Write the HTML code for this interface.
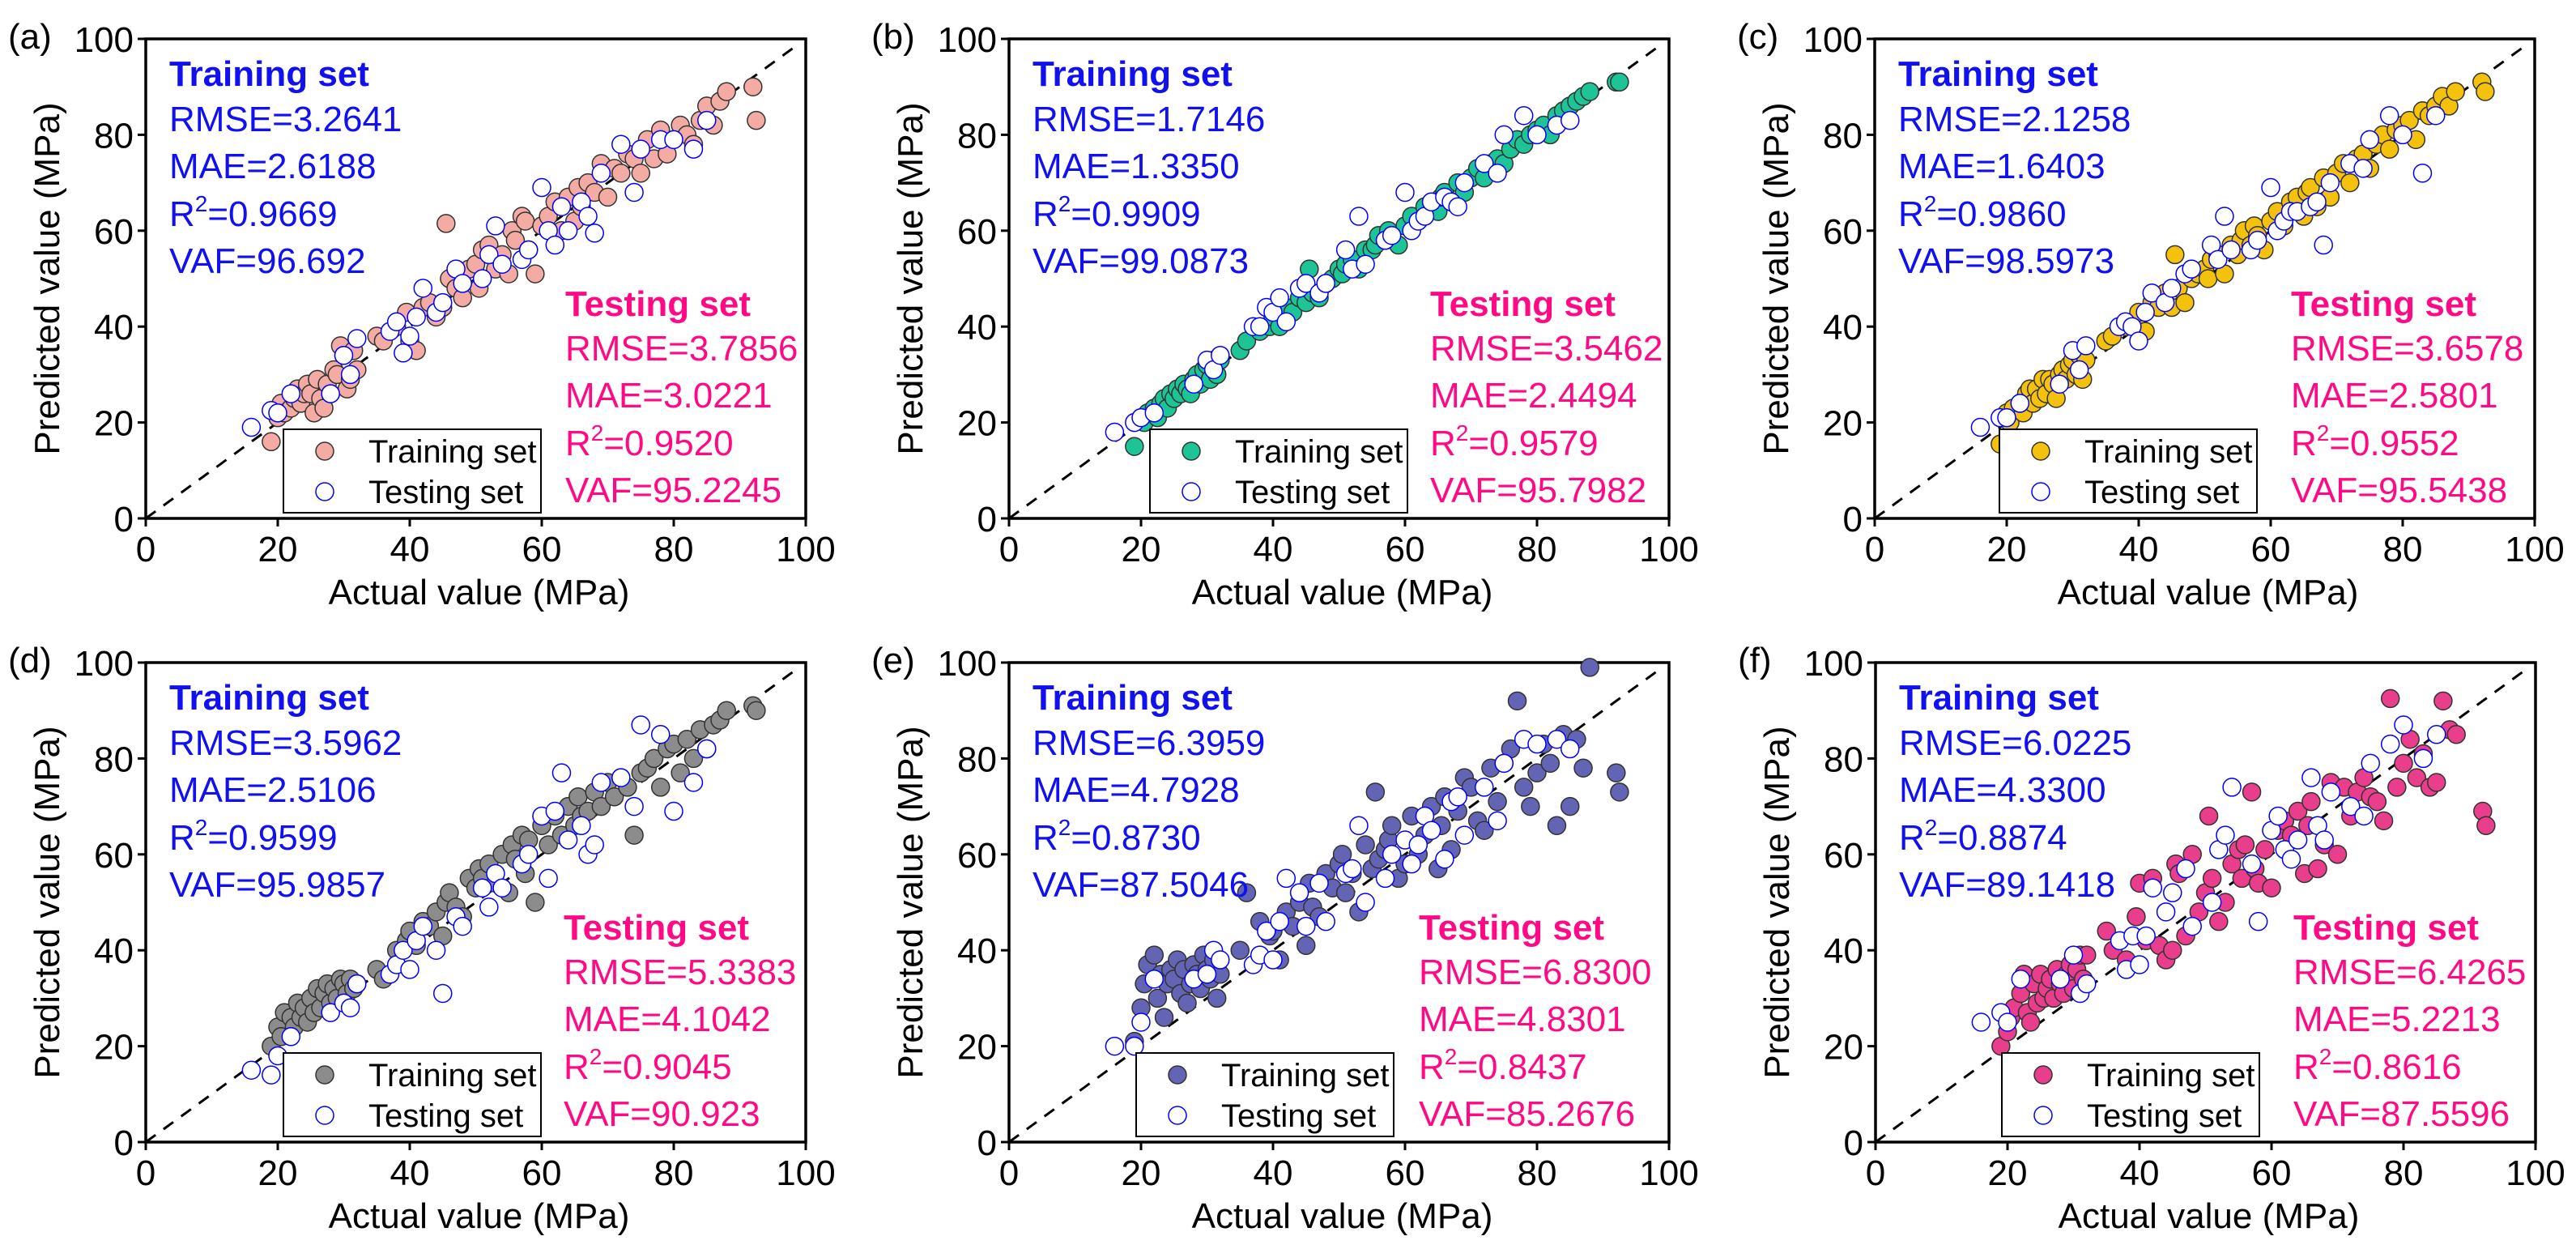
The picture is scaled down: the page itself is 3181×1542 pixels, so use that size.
<!DOCTYPE html>
<html><head><meta charset="utf-8">
<style>
html,body{margin:0;padding:0;background:#fff;}
svg{display:block;font-family:"Liberation Sans",Arial,sans-serif;}
</style></head>
<body>
<svg id="fig" width="3181" height="1542" viewBox="0 0 3181 1542" xmlns="http://www.w3.org/2000/svg"></svg>
<script>
// shared actual values
const trainX = [19,20,20.5,21,22,22.5,23,23.5,24,24.5,25,25.5,26,26.5,27,27.5,28,28.5,29,29.5,30,30.5,31,31.5,32,
35,36,38,39.5,40,41,42,43,44,45,45.5,46,47,48,49,50,
50.5,51,52,53,54,55,55.5,56,57,57.5,58,59,60,
61,62,63,64,65,65.5,66,67,68,69,70,71,72,73,74,75,
76,77,78,79,80,81,82,83,84,85,86,87,88,92,92.5];
const testX = [16,19,20,22,28,30,31,32,37,38,39,40,41,42,44,45,47,48,51,52,53,54,57,58,60,61,62,63,64,66,67,68,69,72,74,75,78,80,83,85];

const trainYa = [16,21,24,22,23,25,27,24,26,28,26,22,29,25,23,28,26,31,30,36,34,27,29,35,31,
38,37,40,43,37,35,44,45,42,44,61.5,50,48,46,52,53,
48,56,57,52,55,51,60,58,63,62,56,51,61,
63,66,60,67,62,69,65,70,68,74,67,73,72,76,75,72,
79,75,81,76,79,82,80,78,83,86,82,87,89,90,83];
const testYa = [19,22.5,22,26,26,34,30,37.5,39,41,34.5,38,42,48,43,45,52,49,50,55,61,53,54,56,69,60,57,65,60,66,63,59.5,72,78,68,77,79,79,77,83];

const trainYb = [15,21,20,22,23,21,24,25,23,26,25,27,26,28,27,26,29,30,28,31,32,29,33,30,33,
35,37,39,40,42,40,44,43,46,45,52,47,46,49,50,52,
51,53,54,52,56,56,57,59,58,60,59,57,61,
63,62,65,66,64,67,68,66,70,68,71,73,71,74,75,74,
77,79,78,80,81,82,80,84,85,86,87,88,89,91,91];
const testYb = [18,20,21,22,28,33,31,34,40,40,44,43,46,41,48,49,47,49,56,52,63,53,58,59,68,60,62,63,66,67,66,65,70,74,72,80,84,80,82,83];

const trainYc = [15.5,22,20,23,24,22,26,27,24,27,25,29,26,29,28,25,30,31,29,32,33,30,34,29,33,
37,38,40,41,43,39,45,44,47,44,55,48,45,50,51,52,
50,54,55,51,57,55,58,60,57,61,59,56,62,
64,61,66,67,63,68,69,65,71,67,72,74,70,75,76,73,
78,80,77,81,82,83,79,85,84,86,88,86,89,91,89];
const testYc = [19,21,21,24,28,35,31,36,40,41,40,37,43,47,45,48,51,52,57,54,63,56,56,58,69,60,62,64,64,65,66,57,70,74,73,79,84,80,72,84];

const trainYd = [20,24,22,27,26,24,29,26,28,25,30,27,32,28,31,33,29,32,30,34,33,31,34,32,33,
36,34,40,42,44,41,46,45,48,43,50,52,49,47,55,53,
57,55,58,54,60,52,62,59,64,56,63,50,66,
62,68,64,70,66,72,68,69,73,70,75,72,76,74,64,77,
78,80,74,82,83,77,84,80,86,82,87,88,90,91,90];
const testYd = [15,14,18,22,27,29,28,33,35,37,40,36,42,45,40,31,47,45,53,49,56,53,58,60,68,55,69,77,63,66,60,62,75,76,70,87,85,69,75,82];

const trainYe = [21,28,33,37,39,30,35,26,33,36,34,38,31,36,29,33,37,35,32,39,36,34,38,30,35,
40,52,46,43,44,38,48,45,50,41,54,49,47,56,53,58,
60,52,56,48,62,57,73,59,61,63,66,55,58,
68,60,64,70,57,66,72,61,69,76,74,67,65,78,71,79,
82,92,74,70,77,83,79,66,85,70,84,78,99,77,73];
const testYe = [20,20,25,34,34,35,40,38,37,39,44,38,46,55,52,45,54,46,56,57,66,50,55,60,63,58,62,68,65,59,71,72,64,74,67,79,84,83,84,82];

const trainYf = [20,23,26,28,31,35,27,25,33,29,35,30,32,34,30,36,33,31,35,37,32,36,39,34,39,
44,40,38,47,54,42,55,41,38,40,58,56,43,60,48,52,
68,55,46,50,58,61,55,62,73,57,54,61,53,
65,67,64,69,56,66,71,57,62,75,60,74,68,73,76,72,
71,67,92.5,74,79,84,76,81,74,75,92,86,85,69,66];
const testYf = [25,27,25,34,34,39,31,33,42,36,43,37,43,53,48,52,57,45,50,61,64,74,58,46,65,68,61,59,63,76,66,63,73,70,68,79,83,87,80,85];

const ticks = [0,20,40,60,80,100];
const tickLabels = ["0","20","40","60","80","100"];
const panelLabels = ["(a)","(b)","(c)","(d)","(e)","(f)"];
const trainStats = [["3.2641","2.6188","0.9669","96.692"],["1.7146","1.3350","0.9909","99.0873"],["2.1258","1.6403","0.9860","98.5973"],["3.5962","2.5106","0.9599","95.9857"],["6.3959","4.7928","0.8730","87.5046"],["6.0225","4.3300","0.8874","89.1418"]];
const testStats = [["3.7856","3.0221","0.9520","95.2245"],["3.5462","2.4494","0.9579","95.7982"],["3.6578","2.5801","0.9552","95.5438"],["5.3383","4.1042","0.9045","90.923"],["6.8300","4.8301","0.8437","85.2676"],["6.4265","5.2213","0.8616","87.5596"]];
const trainYs = [trainYa,trainYb,trainYc,trainYd,trainYe,trainYf];
const testYs = [testYa,testYb,testYc,testYd,testYe,testYf];

const fills = ["#F4ABA3","#1DC596","#F4C20D","#8C8C8C","#6464B4","#E83E8C"];
const origins = [[180,48],[1246,48],[2315,48],[180,818],[1246,818],[2316,818]];
const legendOff = [170,174,154,170,157,156];
const testOff = [518,520,514,516,506,516];
const W = 815, H = 592;
const NS = "http://www.w3.org/2000/svg";
const svg = document.getElementById("fig");

function mk(tag, attrs, parent){
  const e = document.createElementNS(NS, tag);
  for (const k in attrs) e.setAttribute(k, attrs[k]);
  parent.appendChild(e);
  return e;
}
const xs = v => v / 100 * W;
const ys = v => H - v / 100 * H;

for (let p = 0; p < 6; p++) {
  const g = mk("g", {transform:"translate(" + origins[p][0] + "," + origins[p][1] + ")"}, svg);
  
  

  // frame
  const fr = mk("rect", {x:0,y:0,width:W,height:H,fill:"none",stroke:"#000","stroke-width":3.5}, g);
  
  

  // ticks + labels
  for (let i = 0; i < ticks.length; i++) {
    const tx = xs(ticks[i]), ty = ys(ticks[i]);
    mk("line", {x1:tx,y1:H,x2:tx,y2:H+10,stroke:"#000","stroke-width":3}, g);
    mk("line", {x1:0,y1:ty,x2:-10,y2:ty,stroke:"#000","stroke-width":3}, g);
    const xl = mk("text", {x:tx,y:H+53,"font-size":44,"text-anchor":"middle",fill:"#000"}, g);
    xl.textContent = tickLabels[i];
    
    
    const yl = mk("text", {x:-15,y:ty+16,"font-size":44,"text-anchor":"end",fill:"#000"}, g);
    yl.textContent = tickLabels[i];
    
    
  }
  const xt = mk("text", {x:W/2+4,y:H+106,"font-size":44,"text-anchor":"middle"}, g);
  xt.textContent = "Actual value (MPa)";
  
  
  const yt = mk("text", {x:0,y:0,"font-size":44,"text-anchor":"middle",transform:"translate(-107," + (H/2) + ") rotate(-90)"}, g);
  yt.textContent = "Predicted value (MPa)";
  
  
  const pl = mk("text", {x:-170,y:12,"font-size":44}, g);
  pl.textContent = panelLabels[p];
  
  

  // diagonal
  const dl = mk("line", {x1:xs(0),y1:ys(0),x2:xs(98.5),y2:ys(98.5),stroke:"#000","stroke-width":3,"stroke-dasharray":"15 12"}, g);
  
  

  // points
  const ty = trainYs[p], te = testYs[p];
  for (let i = 0; i < trainX.length; i++) {
    const c = mk("circle", {cx:xs(trainX[i]),cy:ys(ty[i]),r:11,fill:fills[p],stroke:"#333","stroke-width":1.5}, g);
    
    
  }
  for (let i = 0; i < testX.length; i++) {
    const c = mk("circle", {cx:xs(testX[i]),cy:ys(te[i]),r:11,fill:"#fff",stroke:"#0000ff","stroke-width":1.5}, g);
    
    
  }

  // training annotations
  const blue = "#1010F0", pink = "#FF0A84";
  const t1 = mk("text", {x:29,y:58,"font-size":44,"font-weight":"bold",fill:blue}, g);
  t1.textContent = "Training set";
  
  
  const lines = (x0, y0, stats, col, nm) => {
    const ys0 = [y0, y0+58, y0+117, y0+175];
    const a = mk("text", {x:x0,y:ys0[0],"font-size":44,fill:col}, g);
    a.textContent = "RMSE=" + stats[0];
    
    
    const b = mk("text", {x:x0,y:ys0[1],"font-size":44,fill:col}, g);
    b.textContent = "MAE=" + stats[1];
    
    
    const c = mk("text", {x:x0,y:ys0[2],"font-size":44,fill:col}, g);
    
    
    const s1 = mk("tspan", {}, c); s1.textContent = "R";
    const s2 = mk("tspan", {"font-size":28,dy:-18}, c); s2.textContent = "2";
    const s3 = mk("tspan", {dy:18}, c); s3.textContent = "=" + stats[2];
    const d = mk("text", {x:x0,y:ys0[3],"font-size":44,fill:col}, g);
    d.textContent = "VAF=" + stats[3];
    
    
  };
  lines(29, 114, trainStats[p], blue, 'training');
  const t2 = mk("text", {x:testOff[p],y:342,"font-size":44,"font-weight":"bold",fill:pink}, g);
  t2.textContent = "Testing set";
  
  
  lines(testOff[p], 397, testStats[p], pink, 'testing');

  // legend
  const lx = legendOff[p];
  const lg = mk("g", {}, g);
  
  
  mk("rect", {x:lx,y:482,width:318,height:103,fill:"#fff",stroke:"#000","stroke-width":2}, lg);
  const m1 = mk("circle", {cx:lx+51,cy:509,r:11,fill:fills[p],stroke:"#333","stroke-width":1.5}, lg);
  
  
  const l1 = mk("text", {x:lx+105,y:523,"font-size":40}, lg);
  l1.textContent = "Training set";
  
  
  const m2 = mk("circle", {cx:lx+51,cy:559,r:11,fill:"#fff",stroke:"#0000ff","stroke-width":1.5}, lg);
  
  
  const l2 = mk("text", {x:lx+105,y:573,"font-size":40}, lg);
  l2.textContent = "Testing set";
  
  
}
</script>
</body></html>
